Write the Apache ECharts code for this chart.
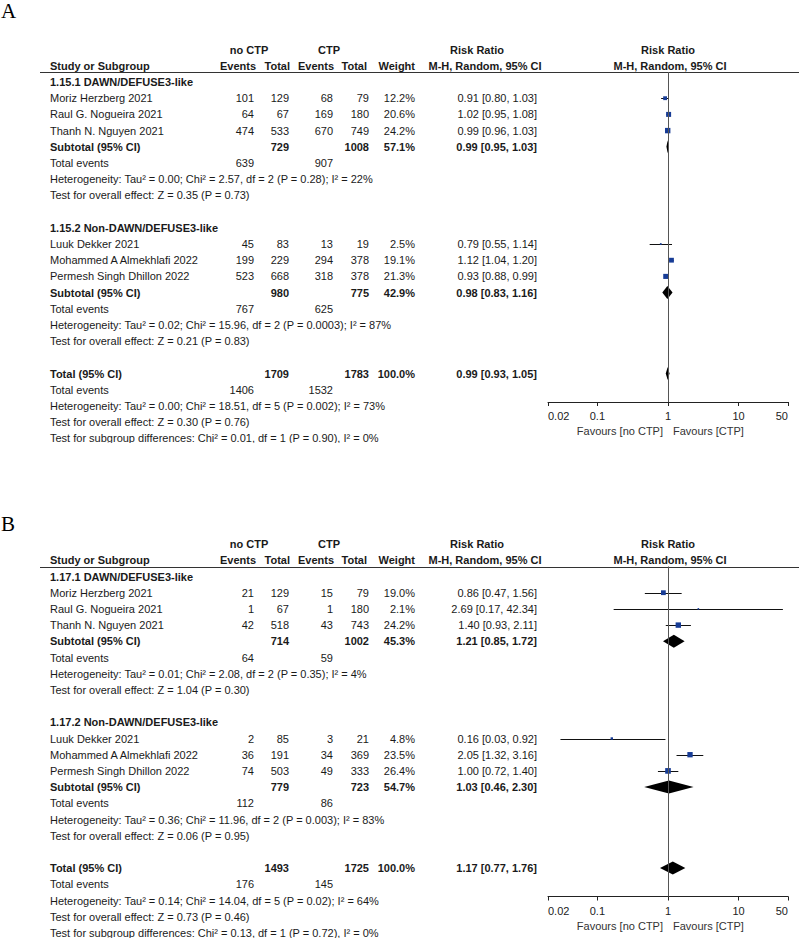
<!DOCTYPE html>
<html><head><meta charset="utf-8">
<script src="https://cdn.jsdelivr.net/npm/echarts@6/dist/echarts.min.js"></script>
<style>html,body{margin:0;padding:0;background:#fff}#c{width:799px;height:938px}</style>
</head><body><div id="c"></div>
<script>
// ================= DATA =================
const studyNames = ['Moriz Herzberg 2021','Raul G. Nogueira 2021','Thanh N. Nguyen 2021','Luuk Dekker 2021','Mohammed A Almekhlafi 2022','Permesh Singh Dhillon 2022'];
const studyGroup = [0,0,0,1,1,1];
const tickValues = [0.02,0.1,1,10,50];
const tickLabels = ['0.02','0.1','1','10','50'];
const favoursLeft = 'Favours [no CTP]';
const favoursRight = 'Favours [CTP]';

// ---- Panel A ----
const A_groupNames = ['1.15.1 DAWN/DEFUSE3-like','1.15.2 Non-DAWN/DEFUSE3-like'];
const A_noEvents  = [101,64,474,45,199,523];
const A_noTotal   = [129,67,533,83,229,668];
const A_ctpEvents = [68,169,670,13,294,318];
const A_ctpTotal  = [79,180,749,19,378,378];
const A_weight    = [12.2,20.6,24.2,2.5,19.1,21.3];
const A_rr        = [0.91,1.02,0.99,0.79,1.12,0.93];
const A_lo        = [0.80,0.95,0.96,0.55,1.04,0.88];
const A_hi        = [1.03,1.08,1.03,1.14,1.20,0.99];
const A_subNoTotal   = [729,980];
const A_subCtpTotal  = [1008,775];
const A_subWeight    = [57.1,42.9];
const A_subRR        = [0.99,0.98];
const A_subLo        = [0.95,0.83];
const A_subHi        = [1.03,1.16];
const A_subNoEvents  = [639,767];
const A_subCtpEvents = [907,625];
const A_subHet  = ['Heterogeneity: Tau² = 0.00; Chi² = 2.57, df = 2 (P = 0.28); I² = 22%','Heterogeneity: Tau² = 0.02; Chi² = 15.96, df = 2 (P = 0.0003); I² = 87%'];
const A_subTest = ['Test for overall effect: Z = 0.35 (P = 0.73)','Test for overall effect: Z = 0.21 (P = 0.83)'];
const A_total = {noTotal:1709, ctpTotal:1783, weight:100.0, rr:0.99, lo:0.93, hi:1.05, noEvents:1406, ctpEvents:1532};
const A_totalHet  = 'Heterogeneity: Tau² = 0.00; Chi² = 18.51, df = 5 (P = 0.002); I² = 73%';
const A_totalTest = 'Test for overall effect: Z = 0.30 (P = 0.76)';
const A_subDiff   = 'Test for subgroup differences: Chi² = 0.01, df = 1 (P = 0.90), I² = 0%';

// ---- Panel B ----
const B_groupNames = ['1.17.1 DAWN/DEFUSE3-like','1.17.2 Non-DAWN/DEFUSE3-like'];
const B_noEvents  = [21,1,42,2,36,74];
const B_noTotal   = [129,67,518,85,191,503];
const B_ctpEvents = [15,1,43,3,34,49];
const B_ctpTotal  = [79,180,743,21,369,333];
const B_weight    = [19.0,2.1,24.2,4.8,23.5,26.4];
const B_rr        = [0.86,2.69,1.40,0.16,2.05,1.00];
const B_lo        = [0.47,0.17,0.93,0.03,1.32,0.72];
const B_hi        = [1.56,42.34,2.11,0.92,3.16,1.40];
const B_subNoTotal   = [714,779];
const B_subCtpTotal  = [1002,723];
const B_subWeight    = [45.3,54.7];
const B_subRR        = [1.21,1.03];
const B_subLo        = [0.85,0.46];
const B_subHi        = [1.72,2.30];
const B_subNoEvents  = [64,112];
const B_subCtpEvents = [59,86];
const B_subHet  = ['Heterogeneity: Tau² = 0.01; Chi² = 2.08, df = 2 (P = 0.35); I² = 4%','Heterogeneity: Tau² = 0.36; Chi² = 11.96, df = 2 (P = 0.003); I² = 83%'];
const B_subTest = ['Test for overall effect: Z = 1.04 (P = 0.30)','Test for overall effect: Z = 0.06 (P = 0.95)'];
const B_total = {noTotal:1493, ctpTotal:1725, weight:100.0, rr:1.17, lo:0.77, hi:1.76, noEvents:176, ctpEvents:145};
const B_totalHet  = 'Heterogeneity: Tau² = 0.14; Chi² = 14.04, df = 5 (P = 0.02); I² = 64%';
const B_totalTest = 'Test for overall effect: Z = 0.73 (P = 0.46)';
const B_subDiff   = 'Test for subgroup differences: Chi² = 0.13, df = 1 (P = 0.72), I² = 0%';

// ================= LAYOUT =================
const FONT = '"Liberation Sans", Arial, Helvetica, sans-serif';
const ROW = 16.2;            // px per table row
const TXT = '#1a1a1a';
const BLUE = '#173c96';
const COL = {name:50, ev1:254, tot1:289, ev2:333, tot2:369, w:415, ci:537};
const lg = Math.log10;
const fmt2 = v => v.toFixed(2);
const ciText = (r,l,h) => fmt2(r)+' ['+fmt2(l)+', '+fmt2(h)+']';

const option = {
  animation:false,
  backgroundColor:'#fff',
  title:[],
  grid:[], xAxis:[], yAxis:[], series:[]
};

function buildPanel(P, row0, clipBottom, letter, letterTop){
  const gi = option.grid.length;
  const items = [];
  const add = (x,row,text,align,bold,color) => items.push({x,row,text,align,bold,color});
  // headers
  add(249,-2,'no CTP','center',true);
  add(329,-2,'CTP','center',true);
  add(477,-2,'Risk Ratio','center',true);
  add(668,-2,'Risk Ratio','center',true);
  add(COL.name,-1,'Study or Subgroup','left',true);
  add(256,-1,'Events','right',true);
  add(290,-1,'Total','right',true);
  add(334,-1,'Events','right',true);
  add(367,-1,'Total','right',true);
  add(415,-1,'Weight','right',true);
  add(485,-1,'M-H, Random, 95% CI','center',true);
  add(670,-1,'M-H, Random, 95% CI','center',true);

  const ci=[], sq=[], dia=[];
  let r = 0;
  for(let g=0; g<2; g++){
    add(COL.name,r,P.groupNames[g],'left',true); r++;
    for(let i=0;i<studyNames.length;i++){
      if(studyGroup[i]!==g) continue;
      add(COL.name,r,studyNames[i],'left');
      add(COL.ev1,r,String(P.noEvents[i]),'right');
      add(COL.tot1,r,String(P.noTotal[i]),'right');
      add(COL.ev2,r,String(P.ctpEvents[i]),'right');
      add(COL.tot2,r,String(P.ctpTotal[i]),'right');
      add(COL.w,r,P.weight[i].toFixed(1)+'%','right');
      add(COL.ci,r,ciText(P.rr[i],P.lo[i],P.hi[i]),'right');
      ci.push([lg(P.lo[i]),lg(P.hi[i]),r]);
      sq.push([lg(P.rr[i]),r,P.weight[i]]);
      r++;
    }
    add(COL.name,r,'Subtotal (95% CI)','left',true);
    add(COL.tot1,r,String(P.subNoTotal[g]),'right',true);
    add(COL.tot2,r,String(P.subCtpTotal[g]),'right',true);
    add(COL.w,r,P.subWeight[g].toFixed(1)+'%','right',true);
    add(COL.ci,r,ciText(P.subRR[g],P.subLo[g],P.subHi[g]),'right',true);
    dia.push([lg(P.subLo[g]),lg(P.subRR[g]),lg(P.subHi[g]),r]);
    r++;
    add(COL.name,r,'Total events','left');
    add(COL.ev1,r,String(P.subNoEvents[g]),'right');
    add(COL.ev2,r,String(P.subCtpEvents[g]),'right');
    r++;
    add(COL.name,r,P.subHet[g],'left'); r++;
    add(COL.name,r,P.subTest[g],'left'); r++;
    r++; // blank
  }
  const T = P.total;
  add(COL.name,r,'Total (95% CI)','left',true);
  add(COL.tot1,r,String(T.noTotal),'right',true);
  add(COL.tot2,r,String(T.ctpTotal),'right',true);
  add(COL.w,r,T.weight.toFixed(1)+'%','right',true);
  add(COL.ci,r,ciText(T.rr,T.lo,T.hi),'right',true);
  dia.push([lg(T.lo),lg(T.rr),lg(T.hi),r]);
  r++;
  add(COL.name,r,'Total events','left');
  add(COL.ev1,r,String(T.noEvents),'right');
  add(COL.ev2,r,String(T.ctpEvents),'right');
  r++;
  add(COL.name,r,P.totalHet,'left'); r++;
  add(COL.name,r,P.totalTest,'left'); r++;
  add(COL.name,r,P.subDiff,'left');
  // favours labels (below forest axis)
  const favRow = 349/ROW;
  add(663,favRow,favoursLeft,'right',false,'#333');
  add(673,favRow,favoursRight,'left',false,'#333');

  // ---- table grid (x in px units) ----
  const tMin = -2.5, tMax = (clipBottom - row0)/ROW;
  option.grid.push({left:0, width:799, top: row0 + tMin*ROW, height:(tMax - tMin)*ROW, outerBoundsMode:'none'});
  option.xAxis.push({type:'value', gridIndex:gi, min:0, max:799, show:false});
  option.yAxis.push({type:'value', gridIndex:gi, min:tMin, max:tMax, inverse:true, show:false});
  option.series.push({
    type:'custom', xAxisIndex:gi, yAxisIndex:gi, clip:true, silent:true,
    data: items.map((t,i)=>[t.x,t.row,i]),
    renderItem:(params,api)=>{
      const t = items[api.value(2)];
      const p = api.coord([api.value(0), api.value(1)]);
      return {type:'text', x:p[0], y:p[1], style:{text:t.text, align:t.align, verticalAlign:'middle',
        fontFamily:FONT, fontSize:11, fontWeight:t.bold?'bold':'normal', fill:t.color||TXT}};
    }
  });
  // header rule
  const ruleRow = -10/ROW;
  option.series.push({
    type:'custom', xAxisIndex:gi, yAxisIndex:gi, silent:true,
    data:[[40,799,ruleRow]],
    renderItem:(params,api)=>{
      const a = api.coord([api.value(0),api.value(2)]), b = api.coord([api.value(1),api.value(2)]);
      return {type:'line', shape:{x1:a[0],y1:Math.round(a[1])+0.5,x2:b[0],y2:Math.round(b[1])+0.5}, style:{stroke:'#333',lineWidth:1}};
    }
  });

  // ---- forest grid ----
  const fi = gi+1;
  const fTop = row0 - 10, fBot = row0 + 320;
  option.grid.push({left:548, width:240, top:fTop, height:fBot-fTop, outerBoundsMode:'none'});
  const tv = tickValues.map(lg);
  option.xAxis.push({type:'value', gridIndex:fi, min:tv[0], max:tv[tv.length-1],
    axisLine:{show:true, onZero:false, lineStyle:{color:'#222',width:1}},
    axisTick:{show:true, customValues:tv, length:4, lineStyle:{color:'#222'}},
    axisLabel:{show:false},
    splitLine:{show:false}});
  option.yAxis.push({type:'value', gridIndex:fi, min:-10/ROW, max:320/ROW, inverse:true, show:false});

  // tick labels
  const tickRow = 334/ROW;
  option.series.push({
    type:'custom', xAxisIndex:fi, yAxisIndex:fi, silent:true, clip:false,
    data: tv.map((v,i)=>[v,tickRow,i]),
    renderItem:(params,api)=>{
      const i = api.value(2);
      const p = api.coord([api.value(0),api.value(1)]);
      const al = i===0 ? 'left' : (i===tv.length-1 ? 'right' : 'center');
      return {type:'text', x:p[0], y:p[1], style:{text:tickLabels[i], align:al, verticalAlign:'middle',
        fontFamily:FONT, fontSize:11, fill:'#222'}};
    }
  });

  option.series.push({
    type:'custom', xAxisIndex:fi, yAxisIndex:fi, silent:true, z:2,
    data:ci,
    renderItem:(params,api)=>{
      const a = api.coord([api.value(0),api.value(2)]), b = api.coord([api.value(1),api.value(2)]);
      const y = Math.round(a[1])+0.5;
      return {type:'line', shape:{x1:a[0],y1:y,x2:b[0],y2:y}, style:{stroke:'#111',lineWidth:1}};
    },
    markLine:{silent:true, symbol:'none', label:{show:false}, lineStyle:{color:'#555',width:1,type:'solid'}, data:[{xAxis:0}]}
  });
  option.series.push({
    type:'custom', xAxisIndex:fi, yAxisIndex:fi, silent:true, z:3,
    data:sq,
    renderItem:(params,api)=>{
      const p = api.coord([api.value(0),api.value(1)]);
      const s = Math.max(1.6, 1.1*Math.sqrt(api.value(2)));
      return {type:'rect', shape:{x:p[0]-s/2, y:p[1]-s/2, width:s, height:s}, style:{fill:BLUE}};
    }
  });
  option.series.push({
    type:'custom', xAxisIndex:fi, yAxisIndex:fi, silent:true, z:3,
    data:dia,
    renderItem:(params,api)=>{
      const l = api.coord([api.value(0),api.value(3)]), m = api.coord([api.value(1),api.value(3)]), h = api.coord([api.value(2),api.value(3)]);
      const hh = 6.5;
      return {type:'polygon', shape:{points:[[l[0],l[1]],[m[0],m[1]-hh],[h[0],h[1]],[m[0],m[1]+hh]]}, style:{fill:'#000'}};
    }
  });

  option.title.push({text:letter, left:1, top:letterTop, padding:0,
    textStyle:{fontFamily:'"Liberation Serif", "Times New Roman", serif', fontSize:21, fontWeight:'normal', color:'#000'}});
}

buildPanel({groupNames:A_groupNames, noEvents:A_noEvents, noTotal:A_noTotal, ctpEvents:A_ctpEvents, ctpTotal:A_ctpTotal,
  weight:A_weight, rr:A_rr, lo:A_lo, hi:A_hi, subNoTotal:A_subNoTotal, subCtpTotal:A_subCtpTotal, subWeight:A_subWeight,
  subRR:A_subRR, subLo:A_subLo, subHi:A_subHi, subNoEvents:A_subNoEvents, subCtpEvents:A_subCtpEvents,
  subHet:A_subHet, subTest:A_subTest, total:A_total, totalHet:A_totalHet, totalTest:A_totalTest, subDiff:A_subDiff}, 82, 443, 'A', 0);
buildPanel({groupNames:B_groupNames, noEvents:B_noEvents, noTotal:B_noTotal, ctpEvents:B_ctpEvents, ctpTotal:B_ctpTotal,
  weight:B_weight, rr:B_rr, lo:B_lo, hi:B_hi, subNoTotal:B_subNoTotal, subCtpTotal:B_subCtpTotal, subWeight:B_subWeight,
  subRR:B_subRR, subLo:B_subLo, subHi:B_subHi, subNoEvents:B_subNoEvents, subCtpEvents:B_subCtpEvents,
  subHet:B_subHet, subTest:B_subTest, total:B_total, totalHet:B_totalHet, totalTest:B_totalTest, subDiff:B_subDiff}, 576.5, 938, 'B', 513);

const chart = echarts.init(document.getElementById('c'), null, {renderer:'svg'});
chart.setOption(option);
</script>
</body></html>
